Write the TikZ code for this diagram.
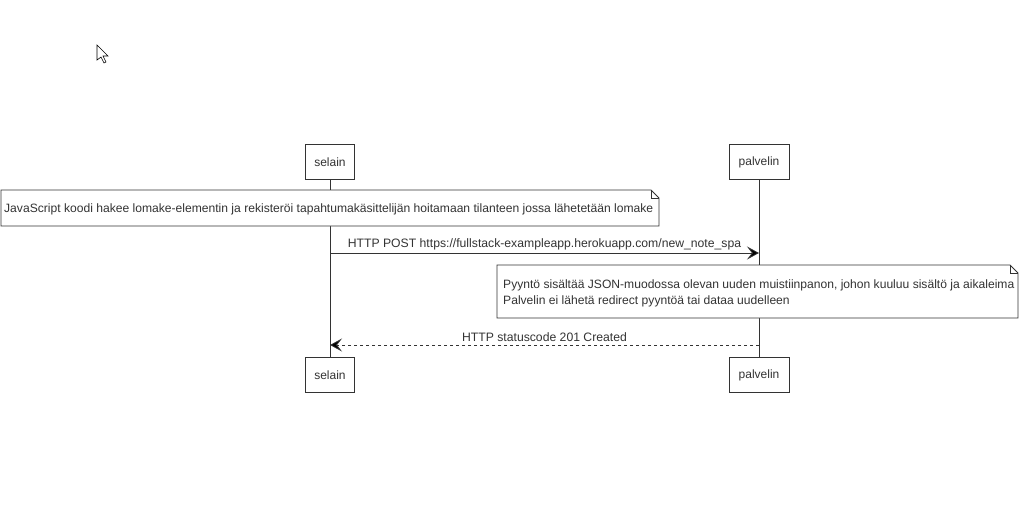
\documentclass[tikz,border=0pt]{standalone}
\usepackage{fontspec}
\setmainfont{Liberation Sans}
\usetikzlibrary{arrows.meta}
\definecolor{ink}{HTML}{333333}
\tikzset{
  actor/.style={draw=ink, line width=0.8pt, fill=white, minimum width=49pt, minimum height=35pt, inner sep=0pt, font=\fontsize{12}{14}\selectfont, text=ink},
  notetext/.style={inner sep=0pt, anchor=west, font=\fontsize{12.1}{16}\selectfont, text=ink, align=left},
  life/.style={draw=ink, line width=0.8pt},
  msg/.style={draw=ink, line width=0.8pt, -{Stealth[length=12pt,width=13pt,inset=5pt,fill=black]}},
  reply/.style={draw=ink, line width=0.8pt, dashed, -{Stealth[length=12pt,width=13pt,inset=5pt,fill=black]}},
  lbl/.style={font=\fontsize{12.2}{14}\selectfont, text=ink, inner sep=1pt},
  noteframe/.style={draw=ink, line width=0.8pt, fill=white}
}
\begin{document}
\begin{tikzpicture}[x=1pt,y=-1pt]
\useasboundingbox (0,0) rectangle (1026,506);
% cursor
\draw[fill=white, line width=0.6pt] (97,45) -- (97,60) -- (101,57) -- (104,63) -- (106,62) -- (103,56) -- (108,56) -- cycle;
% actors
\node[actor] (s1) at (330,162) {selain};
\node[actor, minimum width=60pt] (p1) at (759,162) {palvelin};
\node[actor] (s2) at (330,375) {selain};
\node[actor, minimum width=60pt] (p2) at (759,375) {palvelin};
% lifelines
\draw[life] (s1.south) -- (s2.north);
\draw[life] (p1.south) -- (p2.north);
% note 1
\draw[noteframe] (1,190) -- (651,190) -- (659,198) -- (659,226) -- (1,226) -- cycle;
\draw[ink, line width=0.8pt] (651,190) -- (651,198) -- (659,198);
\node[notetext] (n1) at (4,209) {JavaScript koodi hakee lomake-elementin ja rekisteröi tapahtumakäsittelijän hoitamaan tilanteen jossa lähetetään lomake};
% message 1
\coordinate (a1) at (330,253);
\coordinate (b1) at (759,253);
\draw[msg] (a1) -- (b1) node[lbl, midway, above=2pt] (m1) {HTTP POST https://fullstack-exampleapp.herokuapp.com/new\_note\_spa};
% note 2
\draw[noteframe] (497,265) -- (1010,265) -- (1018,273) -- (1018,318) -- (497,318) -- cycle;
\draw[ink, line width=0.8pt] (1010,265) -- (1010,273) -- (1018,273);
\node[notetext] (n2) at (503,293.5) {Pyyntö sisältää JSON-muodossa olevan uuden muistiinpanon, johon kuuluu sisältö ja aikaleima\\Palvelin ei lähetä redirect pyyntöä tai dataa uudelleen};
% reply
\coordinate (a2) at (759,345);
\coordinate (b2) at (330,345);
\draw[reply] (a2) -- (b2) node[lbl, midway, above=2pt] (m2) {HTTP statuscode 201 Created};
\end{tikzpicture}
\end{document}
